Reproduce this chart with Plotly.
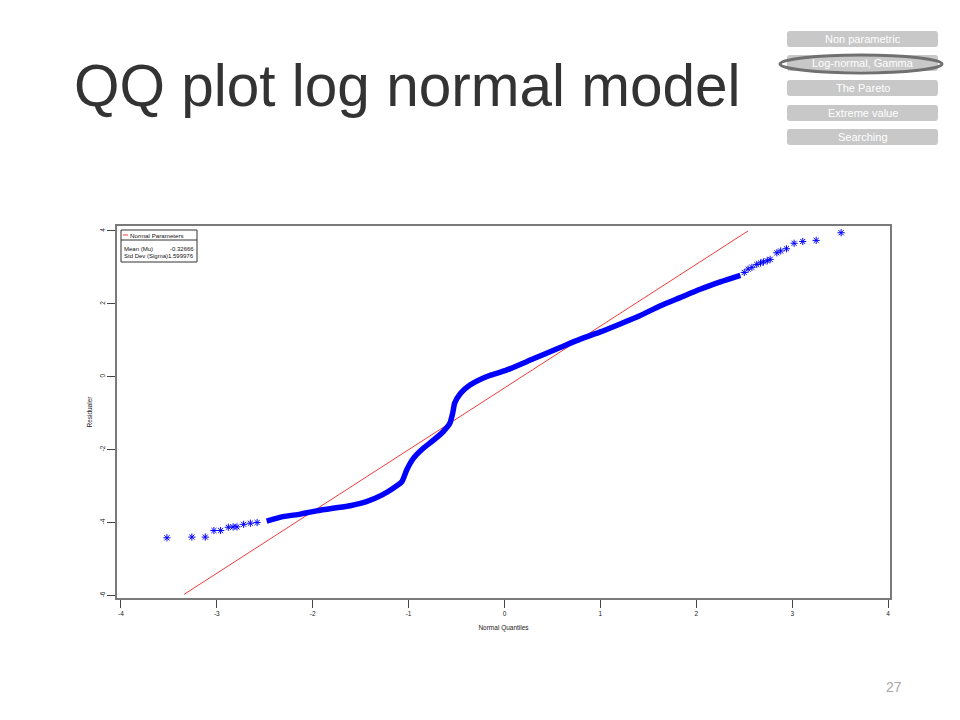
import plotly.graph_objects as go

# ---------------- data ----------------
tail_left_x = [-3.52, -3.26, -3.12, -3.03, -2.96, -2.88, -2.83, -2.79, -2.72, -2.65, -2.58]
tail_left_y = [-4.42, -4.40, -4.40, -4.22, -4.22, -4.13, -4.12, -4.12, -4.05, -4.02, -4.00]

band_x = [-2.48, -2.31, -2.13, -1.96, -1.79, -1.61, -1.44, -1.28, -1.16, -1.07, -1.02,
          -0.95, -0.85, -0.74, -0.64, -0.57, -0.54, -0.52, -0.46, -0.36, -0.19, 0.02,
          0.30, 0.58, 0.79, 1.00, 1.20, 1.41, 1.62, 1.83, 2.04, 2.25, 2.46]
band_y = [-3.96, -3.84, -3.77, -3.68, -3.61, -3.54, -3.43, -3.25, -3.06, -2.88, -2.56,
          -2.24, -1.97, -1.74, -1.51, -1.28, -1.00, -0.73, -0.46, -0.23, 0.00, 0.18,
          0.49, 0.80, 1.03, 1.23, 1.44, 1.67, 1.94, 2.17, 2.40, 2.60, 2.78]

tail_right_x = [2.50, 2.54, 2.58, 2.63, 2.67, 2.70, 2.74, 2.77, 2.84, 2.88, 2.94, 3.02, 3.11, 3.25, 3.51]
tail_right_y = [2.86, 2.95, 3.00, 3.08, 3.12, 3.15, 3.18, 3.22, 3.40, 3.45, 3.51, 3.66, 3.71, 3.74, 3.95]

ref_line_x = [-3.34, 2.54]
ref_line_y = [-5.97, 4.00]

x_ticks = [-4, -3, -2, -1, 0, 1, 2, 3, 4]
x_tick_labels = ["-4", "-3", "-2", "-1", "0", "1", "2", "3", "4"]
y_ticks = [-6, -4, -2, 0, 2, 4]
y_tick_labels = ["-6", "-4", "-2", "0", "2", "4"]

legend_title = "Normal Parameters"
legend_rows = [("Mean (Mu)", "-0.32666"), ("Std Dev (Sigma)", "1.599976")]

nav_items = ["Non parametric", "Log-normal, Gamma", "The Pareto", "Extreme value", "Searching"]
active_item = "Log-normal, Gamma"
slide_title = "QQ plot log normal model"
page_number = "27"

# ---------------- layout helpers (page pixel -> paper) ----------------
OFF = 8                      # default body margin of the html page
W, H = 960 - 2 * OFF, 720 - 2 * OFF
L, R, T, B = 117, 890, 226, 598   # plot box in page pixels


def px(x):
    return (x - L) / (R - L)


def py(y):
    return (B - y) / (B - T)


BLUE = "#0000ff"
FONT = "Liberation Sans"

fig = go.Figure()

fig.add_trace(go.Scatter(x=ref_line_x, y=ref_line_y, mode="lines",
                         line=dict(color="#f03c3c", width=1), hoverinfo="skip"))
fig.add_trace(go.Scatter(x=band_x, y=band_y, mode="lines",
                         line=dict(color=BLUE, width=5.5, shape="spline", smoothing=0.6)))
fig.add_trace(go.Scatter(x=tail_left_x + tail_right_x, y=tail_left_y + tail_right_y, mode="markers",
                         marker=dict(symbol="asterisk-open", size=6,
                                     line=dict(color=BLUE, width=1), color=BLUE)))

fig.update_xaxes(range=[(L - 504.5) / 95.9, (R - 504.5) / 95.9],
                 tickvals=x_ticks, ticktext=x_tick_labels,
                 ticks="outside", ticklen=8, tickwidth=1, tickcolor="#444",
                 tickfont=dict(size=6.5, color="#222", family=FONT),
                 showline=True, linecolor="#7a7a7a", linewidth=1.5, mirror=True,
                 showgrid=False, zeroline=False,
                 title=dict(text="Normal Quantiles", font=dict(size=6.5, color="#222", family=FONT),
                            standoff=10))
fig.update_yaxes(range=[(376.7 - B) / 36.45, (376.7 - T) / 36.45],
                 tickvals=y_ticks, ticktext=y_tick_labels, tickangle=-90,
                 ticks="outside", ticklen=8, tickwidth=1, tickcolor="#444",
                 tickfont=dict(size=6.5, color="#222", family=FONT),
                 showline=True, linecolor="#7a7a7a", linewidth=1.5, mirror=True,
                 showgrid=False, zeroline=False,
                 title=dict(text="Residualer", font=dict(size=6.5, color="#222", family=FONT),
                            standoff=5))

shapes = []
annotations = []

# legend box inside plot
shapes.append(dict(type="rect", xref="paper", yref="paper",
                   x0=px(121), x1=px(197), y0=py(262), y1=py(230),
                   line=dict(color="#333", width=1), fillcolor="white", layer="above"))
shapes.append(dict(type="line", xref="paper", yref="paper",
                   x0=px(121), x1=px(197), y0=py(240), y1=py(240),
                   line=dict(color="#333", width=1), layer="above"))
shapes.append(dict(type="line", xref="paper", yref="paper",
                   x0=px(123), x1=px(128), y0=py(235), y1=py(235),
                   line=dict(color="#f03c3c", width=1), layer="above"))
annotations.append(dict(xref="paper", yref="paper", x=px(128), y=py(235.5), text=legend_title,
                        showarrow=False, xanchor="left", yanchor="middle",
                        font=dict(size=6.2, color="#111", family=FONT)))
for i, (lab, val) in enumerate(legend_rows):
    yy = 249 + i * 6.8
    annotations.append(dict(xref="paper", yref="paper", x=px(122), y=py(yy), text=lab,
                            showarrow=False, xanchor="left", yanchor="middle",
                            font=dict(size=6, color="#111", family=FONT)))
    annotations.append(dict(xref="paper", yref="paper", x=px(196), y=py(yy), text=val,
                            showarrow=False, xanchor="right", yanchor="middle",
                            font=dict(size=6, color="#111", family=FONT)))

# title
annotations.append(dict(xref="paper", yref="paper", x=px(72), y=py(86), text=slide_title,
                        showarrow=False, xanchor="left", yanchor="middle",
                        font=dict(size=58.5, color="#333333", family=FONT)))

# nav buttons
btn_x0, btn_x1 = 787, 938
btn_centers = [39, 63, 88, 113, 137]
for name, cy in zip(nav_items, btn_centers):
    y0, y1 = cy - 8, cy + 8
    r = 3
    path = (f"M {px(btn_x0 + r)},{py(y0)} L {px(btn_x1 - r)},{py(y0)} "
            f"Q {px(btn_x1)},{py(y0)} {px(btn_x1)},{py(y0 + r)} "
            f"L {px(btn_x1)},{py(y1 - r)} Q {px(btn_x1)},{py(y1)} {px(btn_x1 - r)},{py(y1)} "
            f"L {px(btn_x0 + r)},{py(y1)} Q {px(btn_x0)},{py(y1)} {px(btn_x0)},{py(y1 - r)} "
            f"L {px(btn_x0)},{py(y0 + r)} Q {px(btn_x0)},{py(y0)} {px(btn_x0 + r)},{py(y0)} Z")
    shapes.append(dict(type="path", xref="paper", yref="paper", path=path,
                       fillcolor="#c8c8c8", line=dict(width=0), layer="above"))
    annotations.append(dict(xref="paper", yref="paper", x=px((btn_x0 + btn_x1) / 2), y=py(cy),
                            text=name, showarrow=False, xanchor="center", yanchor="middle",
                            font=dict(size=11, color="white", family=FONT)))
    if name == active_item:
        shapes.append(dict(type="circle", xref="paper", yref="paper",
                           x0=px(780), x1=px(942), y0=py(73), y1=py(55),
                           line=dict(color="#707070", width=3), layer="above"))

# page number
annotations.append(dict(xref="paper", yref="paper", x=px(894), y=py(687), text=page_number,
                        showarrow=False, xanchor="center", yanchor="middle",
                        font=dict(size=14, color="#a6a6a6", family=FONT)))

fig.update_layout(width=W, height=H,
                  margin=dict(l=L - OFF, r=(960 - OFF) - R, t=T - OFF, b=(720 - OFF) - B),
                  paper_bgcolor="white", plot_bgcolor="white", showlegend=False,
                  shapes=shapes, annotations=annotations)

fig.write_html("out.html")
